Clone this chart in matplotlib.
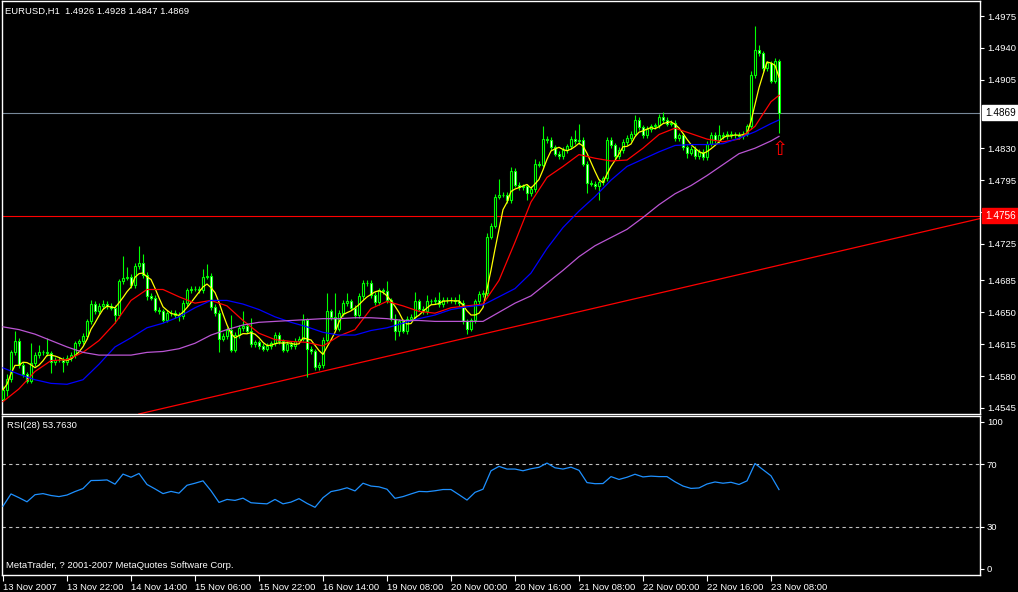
import matplotlib
matplotlib.use('Agg')
import matplotlib.pyplot as plt
import matplotlib.transforms as mtransforms
import numpy as np
import pandas as pd

# ---------------- data ----------------
closes = [
    1.4565, 1.4577, 1.4606, 1.4619, 1.4592, 1.4582, 1.4575, 1.4594, 1.4603, 1.4606,
    1.4606, 1.4605, 1.4595, 1.4598, 1.4598, 1.4595, 1.4600, 1.4603, 1.4616, 1.4618,
    1.4624, 1.4640, 1.4659, 1.4651, 1.4657, 1.4659, 1.4657, 1.4655, 1.4647, 1.4684,
    1.4688, 1.4689, 1.4680, 1.4701, 1.4704, 1.4691, 1.4668, 1.4666, 1.4653, 1.4651,
    1.4642, 1.4649, 1.4649, 1.4647, 1.4646, 1.4660, 1.4674, 1.4676, 1.4676, 1.4674,
    1.4689, 1.4690, 1.4656, 1.4649, 1.4621, 1.4624, 1.4631, 1.4609, 1.4625, 1.4633,
    1.4635, 1.4630, 1.4615, 1.4617, 1.4613, 1.4610, 1.4613, 1.4616, 1.4625, 1.4618,
    1.4609, 1.4615, 1.4613, 1.4619, 1.4621, 1.4641, 1.4610, 1.4607, 1.4590, 1.4592,
    1.4620, 1.4651, 1.4645, 1.4632, 1.4649, 1.4660, 1.4662, 1.4655, 1.4647, 1.4668,
    1.4682, 1.4682, 1.4669, 1.4661, 1.4674, 1.4673, 1.4663, 1.4643, 1.4630, 1.4640,
    1.4630, 1.4643, 1.4645, 1.4662, 1.4654, 1.4651, 1.4662, 1.4662, 1.4664, 1.4659,
    1.4664, 1.4663, 1.4664, 1.4662, 1.4660, 1.4640, 1.4632, 1.4641, 1.4662, 1.4670,
    1.4671, 1.4733, 1.4745, 1.4777, 1.4779, 1.4779, 1.4773, 1.4805, 1.4790, 1.4787,
    1.4788, 1.4781, 1.4785, 1.4813, 1.4812, 1.4840, 1.4839, 1.4831, 1.4824, 1.4821,
    1.4828, 1.4832, 1.4840, 1.4838, 1.4839, 1.4813, 1.4792, 1.4791, 1.4788, 1.4793,
    1.4797, 1.4839, 1.4833, 1.4821, 1.4828, 1.4837, 1.4841, 1.4846, 1.4861, 1.4853,
    1.4844, 1.4851, 1.4854, 1.4855, 1.4864, 1.4861, 1.4857, 1.4858, 1.4841, 1.4844,
    1.4831, 1.4825, 1.4829, 1.4821, 1.4826, 1.4820, 1.4835, 1.4845, 1.4839, 1.4845,
    1.4843, 1.4846, 1.4844, 1.4845, 1.4843, 1.4846, 1.4854, 1.4910, 1.4938, 1.4934,
    1.4918, 1.4923, 1.4904, 1.4926, 1.4869,
]
first_open = 1.4555

upper_wick_pips = [
    4, 5, 3, 11, 3, 3, 3, 22, 3, 8,
    3, 16, 3, 3, 3, 3, 3, 3, 3, 3,
    3, 3, 5, 3, 3, 4, 3, 3, 3, 3,
    24, 11, 3, 3, 19, 10, 3, 3, 3, 3,
    3, 3, 3, 3, 3, 3, 3, 3, 3, 3,
    8, 13, 3, 3, 3, 3, 3, 16, 3, 3,
    16, 3, 14, 3, 3, 3, 3, 3, 3, 3,
    3, 3, 3, 3, 3, 7, 3, 3, 3, 3,
    3, 20, 3, 26, 3, 3, 9, 3, 3, 3,
    3, 3, 3, 3, 3, 3, 11, 3, 5, 3,
    3, 3, 3, 10, 3, 3, 7, 3, 3, 8,
    3, 3, 3, 3, 8, 3, 3, 3, 3, 3,
    3, 4, 3, 3, 17, 3, 3, 4, 3, 3,
    3, 3, 3, 5, 3, 14, 3, 3, 3, 3,
    3, 3, 3, 10, 18, 3, 3, 3, 3, 3,
    3, 3, 3, 3, 3, 3, 3, 3, 5, 3,
    3, 3, 3, 3, 3, 6, 3, 3, 3, 3,
    3, 3, 3, 3, 3, 3, 3, 3, 3, 11,
    3, 3, 3, 3, 3, 3, 3, 5, 26, 5,
    3, 3, 3, 3, 2,
]
lower_wick_pips = [
    2, 7, 3, 3, 3, 3, 3, 3, 3, 3,
    3, 3, 12, 3, 3, 10, 3, 3, 3, 3,
    3, 3, 3, 3, 3, 3, 3, 3, 9, 3,
    3, 3, 3, 3, 3, 3, 4, 3, 3, 3,
    3, 3, 3, 3, 6, 3, 3, 3, 3, 3,
    3, 3, 3, 3, 15, 3, 3, 3, 3, 3,
    3, 3, 3, 3, 3, 3, 3, 3, 3, 3,
    3, 3, 3, 3, 3, 3, 31, 3, 3, 3,
    3, 3, 3, 3, 3, 3, 3, 3, 3, 3,
    3, 3, 3, 3, 3, 3, 3, 3, 10, 6,
    3, 4, 3, 3, 3, 3, 3, 3, 3, 3,
    3, 3, 3, 3, 3, 3, 6, 3, 3, 3,
    3, 3, 3, 3, 3, 3, 3, 3, 3, 3,
    3, 8, 3, 3, 3, 3, 3, 3, 3, 3,
    3, 3, 3, 3, 3, 3, 11, 3, 3, 15,
    3, 3, 3, 3, 3, 3, 3, 3, 3, 3,
    3, 3, 3, 3, 3, 3, 3, 3, 3, 3,
    3, 6, 3, 3, 3, 3, 3, 3, 3, 3,
    3, 3, 3, 3, 3, 3, 3, 3, 3, 3,
    3, 3, 3, 3, 22,
]

ma_idx = list(range(0, 193, 4)) + [194]
ma_red = [
    1.4552, 1.4566, 1.4585, 1.4597, 1.4598, 1.4606, 1.4619, 1.4638, 1.4663, 1.4675,
    1.4675, 1.4667, 1.4660, 1.4663, 1.4657, 1.4641, 1.4627, 1.4620, 1.4618, 1.4617,
    1.4613, 1.4624, 1.4631, 1.4654, 1.4662, 1.4657, 1.4651, 1.4649, 1.4655, 1.4657,
    1.4659, 1.4685, 1.4727, 1.4771, 1.4798, 1.4810, 1.4823, 1.4819, 1.4816, 1.4817,
    1.4830, 1.4845, 1.4852, 1.4846, 1.4840, 1.4837, 1.4840, 1.4854, 1.4881, 1.4888,
]
ma_blue = [
    1.4589, 1.4582, 1.4576, 1.4572, 1.4571, 1.4576, 1.4593, 1.4612, 1.4622, 1.4633,
    1.4638, 1.4645, 1.4655, 1.4663, 1.4663, 1.4659, 1.4653, 1.4645, 1.4639, 1.4634,
    1.4628, 1.4625, 1.4625, 1.4630, 1.4633, 1.4638, 1.4643, 1.4647, 1.4653, 1.4656,
    1.4658, 1.4667, 1.4676, 1.4693, 1.4720, 1.4743, 1.4761, 1.4777, 1.4795, 1.4810,
    1.4818, 1.4826, 1.4833, 1.4834, 1.4834, 1.4835, 1.4841, 1.4848, 1.4857, 1.4861,
]
ma_violet = [
    1.4634, 1.4631, 1.4626, 1.4619, 1.4612, 1.4606, 1.4603, 1.4603, 1.4603, 1.4606,
    1.4607, 1.4610, 1.4616, 1.4625, 1.4631, 1.4636, 1.4639, 1.4640, 1.4641, 1.4642,
    1.4643, 1.4643, 1.4644, 1.4644, 1.4643, 1.4641, 1.4641, 1.4640, 1.4640, 1.4640,
    1.4640, 1.4650, 1.4660, 1.4668, 1.4682, 1.4696, 1.4711, 1.4723, 1.4732, 1.4741,
    1.4754, 1.4768, 1.4780, 1.4789, 1.4800, 1.4812, 1.4824, 1.4830, 1.4838, 1.4843,
]
fast_ma_period = 5

rsi_idx = list(range(0, 195, 2))
rsi_vals = [
    43.2, 51.0, 48.6, 46.0, 50.5, 51.2, 50.0, 49.3, 50.3, 52.5,
    54.4, 59.5, 59.6, 59.9, 57.2, 63.6, 61.6, 64.0, 57.0, 54.2,
    51.2, 52.6, 51.5, 56.5, 57.8, 59.3, 53.0, 45.6, 47.5, 46.9,
    48.3, 45.4, 45.0, 44.7, 47.5, 44.7, 45.8, 48.0, 45.0, 42.5,
    48.6, 52.5, 53.5, 54.9, 52.9, 57.8, 56.0, 55.5, 54.0, 48.2,
    49.3, 51.0, 52.6, 52.4, 53.0, 53.8, 53.8, 50.5, 47.1, 52.0,
    54.0, 65.7, 68.5, 66.8, 66.8, 65.7, 67.0, 67.9, 70.6, 67.6,
    66.8, 68.0, 66.0, 58.2, 57.5, 57.6, 62.0, 60.2, 61.6, 63.5,
    61.8, 62.3, 62.0, 62.0, 58.7, 56.0, 54.5, 54.8, 57.3, 58.6,
    57.8, 58.4, 57.0, 59.3, 70.3, 66.4, 62.5, 53.76,
]
rsi_levels = [70, 30]

time_tick_idx = list(range(0, 193, 16))
time_labels = ["13 Nov 2007", "13 Nov 22:00", "14 Nov 14:00", "15 Nov 06:00",
               "15 Nov 22:00", "16 Nov 14:00", "19 Nov 08:00", "20 Nov 00:00",
               "20 Nov 16:00", "21 Nov 08:00", "22 Nov 00:00", "22 Nov 16:00",
               "23 Nov 08:00"]
price_ticks = [1.4975, 1.4940, 1.4905, 1.4830, 1.4795, 1.4725,
               1.4685, 1.4650, 1.4615, 1.4580, 1.4545]
hidden_tick = 1.4760
bid_price = 1.4869
level_price = 1.4756
trend_x = [114, 190.5]
trend_y = [1.4620, 1.4698]
signal_bar = 194.25
signal_price = 1.4829

header = "EURUSD,H1  1.4926 1.4928 1.4847 1.4869"
rsi_title = "RSI(28) 53.7630"
copyright_txt = "MetaTrader, ? 2001-2007 MetaQuotes Software Corp."

# ---------------- figure ----------------
W, H = 1018, 592
FONT = "Liberation Sans"
FS = 6.8
LIME = "#00FF00"

fig = plt.figure(figsize=(W / 100, H / 100), dpi=100, facecolor="black")


def frame(x0, y0, x1, y1):
    return [x0 / W, 1 - y1 / H, (x1 - x0) / W, (y1 - y0) / H]


ax = fig.add_axes(frame(2, 1, 980, 414), facecolor="black")
axr = fig.add_axes(frame(2, 416, 980, 575), facecolor="black", sharex=ax)

for a in (ax, axr):
    for s in a.spines.values():
        s.set_color("white")
        s.set_linewidth(1.0)

# candles
c = np.array(closes)
n = len(c)
x = np.arange(n)
o = np.concatenate([[first_open], c[:-1]])
hi = np.maximum(o, c) + np.array(upper_wick_pips) * 1e-4
lo = np.minimum(o, c) - np.array(lower_wick_pips) * 1e-4
ax.vlines(x, lo, hi, color=LIME, lw=0.8, zorder=3)
fills = ["black" if cc >= oo else "white" for oo, cc in zip(o, c)]
ax.bar(x, c - o, bottom=o, width=0.55, color=fills, edgecolor=LIME,
       linewidth=0.8, zorder=4)

# moving averages
fast = pd.Series(c).rolling(fast_ma_period, min_periods=1).mean()
ax.plot(x, fast, color="#FFFF00", lw=0.9, zorder=6)
ax.plot(ma_idx, ma_red, color="#FF0000", lw=0.9, zorder=6)
ax.plot(ma_idx, ma_blue, color="#0000FF", lw=0.9, zorder=6)
ax.plot(ma_idx, ma_violet, color="#BA55D3", lw=0.9, zorder=6)

# objects
ax.axhline(bid_price, color="#778899", lw=0.8, zorder=2)
ax.axhline(level_price, color="#FF0000", lw=0.8, zorder=2)
ax.axline((trend_x[0], trend_y[0]), (trend_x[1], trend_y[1]), color="#FF0000",
          lw=0.9, zorder=2)
ax.text(signal_bar, signal_price, "\u21e7", color="#FF0000", fontsize=14,
        ha="center", va="center", family="DejaVu Sans", zorder=7)

ax.set_xlim(-0.25, 244.25)
ax.set_ylim(1.45384, 1.49915)

ax.yaxis.tick_right()
ax.set_yticks(price_ticks + [hidden_tick])
ax.set_yticklabels([f"{p:.4f}" for p in price_ticks] + [""])
ax.tick_params(axis="y", colors="white", length=3, width=0.8, pad=2,
               labelsize=FS, direction="out")
for lab in ax.get_yticklabels():
    lab.set_fontfamily(FONT)
ax.tick_params(axis="x", bottom=False, labelbottom=False)

blend = mtransforms.blended_transform_factory(ax.transAxes, ax.transData)
ax.annotate(f"{bid_price:.4f}", xy=(1.0, bid_price), xycoords=blend,
            xytext=(3.5, 0), textcoords="offset points", ha="left", va="center",
            color="black", fontsize=FS + 0.4, family=FONT, annotation_clip=False,
            bbox=dict(boxstyle="square,pad=0.25", facecolor="white",
                      edgecolor="white"), zorder=10)
ax.annotate(f"{level_price:.4f}", xy=(1.0, level_price), xycoords=blend,
            xytext=(3.5, 0), textcoords="offset points", ha="left", va="center",
            color="white", fontsize=FS + 0.4, family=FONT, annotation_clip=False,
            bbox=dict(boxstyle="square,pad=0.25", facecolor="#FF0000",
                      edgecolor="#FF0000"), zorder=10)

# RSI panel
axr.plot(rsi_idx, rsi_vals, color="#1E90FF", lw=0.9, zorder=3)
for lv in rsi_levels:
    axr.axhline(lv, color="#C0C0C0", lw=0.8, linestyle=(0, (3, 3)), zorder=2)
axr.set_ylim(-0.5, 100.5)
axr.yaxis.tick_right()
axr.set_yticks([3.5, 30, 70, 97])
axr.set_yticklabels(["0", "30", "70", "100"])
axr.tick_params(axis="y", colors="white", length=3, width=0.8, pad=2,
                labelsize=FS, direction="out")
for lab in axr.get_yticklabels():
    lab.set_fontfamily(FONT)

axr.set_xticks(time_tick_idx)
axr.set_xticklabels(time_labels)
axr.tick_params(axis="x", colors="white", length=4, width=0.8, pad=1.5,
                labelsize=FS, direction="out")
for lab in axr.get_xticklabels():
    lab.set_fontfamily(FONT)
    lab.set_horizontalalignment("left")

# texts
fig.text(5 / W, 1 - 11 / H, header, color="white", fontsize=FS, family=FONT,
         ha="left", va="center")
fig.text(7 / W, 1 - 426 / H, rsi_title, color="white", fontsize=FS,
         family=FONT, ha="left", va="center")
fig.text(6 / W, 1 - 566 / H, copyright_txt, color="white", fontsize=FS,
         family=FONT, ha="left", va="center")

fig.savefig("out.png", dpi=100, facecolor="black")
